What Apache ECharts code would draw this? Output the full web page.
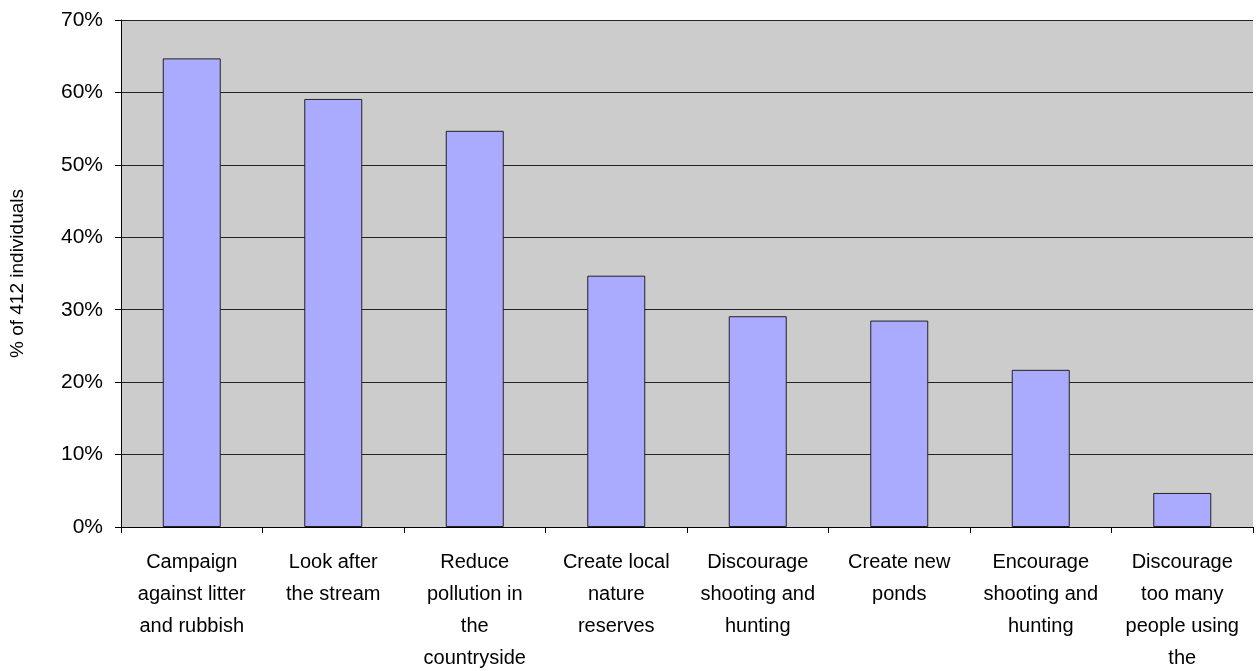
<!DOCTYPE html>
<html>
<head>
<meta charset="utf-8">
<script src="https://cdn.jsdelivr.net/npm/echarts@6/dist/echarts.min.js"></script>
<style>
html,body{margin:0;padding:0;background:#fff;}
#c{width:1258px;height:671px;}
</style>
</head>
<body>
<div id="c"></div>
<script>
const categories = [
  "Campaign\nagainst litter\nand rubbish",
  "Look after\nthe stream",
  "Reduce\npollution in\nthe\ncountryside",
  "Create local\nnature\nreserves",
  "Discourage\nshooting and\nhunting",
  "Create new\nponds",
  "Encourage\nshooting and\nhunting",
  "Discourage\ntoo many\npeople using\nthe"
];
const values = [64.7, 59.1, 54.7, 34.7, 29.1, 28.5, 21.7, 4.7];
const yTicks = { min: 0, max: 70, interval: 10 };
const yAxisTitle = "% of 412 individuals";

const chart = echarts.init(document.getElementById('c'), null, {renderer:'canvas'});
const FONT = 'Liberation Sans, Arial, sans-serif';
chart.setOption({
  animation: false,
  grid: {
    left: 121, right: 5, top: 20, bottom: 144,
    outerBoundsMode: 'none', containLabel: false,
    show: true, backgroundColor: '#CCCCCC', borderWidth: 0
  },
  xAxis: {
    type: 'category',
    data: categories,
    axisLine: { show: true, lineStyle: { color: '#000', width: 1 } },
    axisTick: { show: true, alignWithLabel: false, length: 6, lineStyle: { color: '#000' } },
    axisLabel: {
      interval: 0, margin: 19, color: '#000',
      fontFamily: FONT, fontSize: 20, lineHeight: 32, align: 'center'
    },
    splitLine: { show: false }
  },
  yAxis: {
    type: 'value',
    min: yTicks.min, max: yTicks.max, interval: yTicks.interval,
    name: yAxisTitle,
    nameLocation: 'middle',
    nameGap: 94,
    nameRotate: 90,
    nameTextStyle: { color: '#000', fontFamily: FONT, fontSize: 19 },
    axisLine: { show: true, lineStyle: { color: '#000', width: 1 } },
    axisTick: { show: true, length: 6, lineStyle: { color: '#000' } },
    axisLabel: {
      formatter: v => v + '%', color: '#000', margin: 18,
      fontFamily: FONT, fontSize: 21
    },
    splitLine: { show: true, lineStyle: { color: '#222', width: 1 } }
  },
  series: [{
    type: 'bar',
    data: values,
    barWidth: 58,
    itemStyle: { color: '#AAAAFF', borderColor: '#222', borderWidth: 1 }
  }]
});
</script>
</body>
</html>
